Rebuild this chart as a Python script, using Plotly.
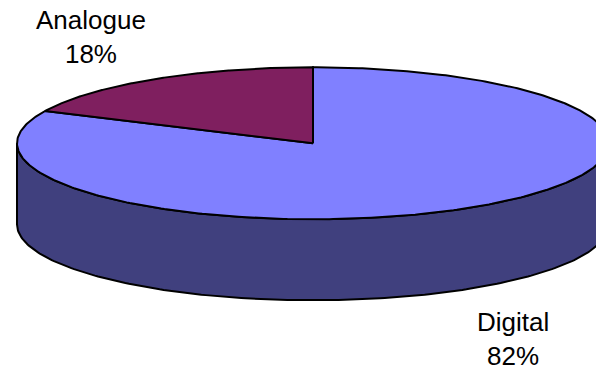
import numpy as np
import plotly.graph_objects as go

# Data
categories = ["Digital", "Analogue"]
values = [82, 18]
top_colors = ["#8080FF", "#7F1F5F"]
side_colors = ["#40407E", "#3F0F2F"]

# Pie geometry in pixel space (y grows downwards)
W, H = 596, 370
cx, cy = 313, 143.3      # centre of the top face
a, b = 296, 76           # ellipse radii
depth = 81               # height of the pie wall


def ellipse_pts(t0, t1, yoff=0.0, n=200):
    # angles measured clockwise from 12 o'clock, in degrees
    t = np.radians(np.linspace(t0, t1, n))
    return cx + a * np.sin(t), cy + yoff - b * np.cos(t)


fig = go.Figure()

total = sum(values)
bounds = np.concatenate([[0], np.cumsum(values) / total * 360.0])

# Front wall of every slice: the part lying between 90 and 270 degrees
for i, cat in enumerate(categories):
    s, e = bounds[i], bounds[i + 1]
    lo, hi = max(s, 90.0), min(e, 270.0)
    if hi <= lo:
        continue
    xt, yt = ellipse_pts(lo, hi)
    xb, yb = ellipse_pts(lo, hi, yoff=depth)
    xs = np.concatenate([xt, xb[::-1], xt[:1]])
    ys = np.concatenate([yt, yb[::-1], yt[:1]])
    fig.add_trace(go.Scatter(
        x=xs, y=ys, mode="lines", fill="toself",
        fillcolor=side_colors[i], line=dict(color="black", width=2),
        hoverinfo="skip", showlegend=False))

# Top faces
for i, cat in enumerate(categories):
    s, e = bounds[i], bounds[i + 1]
    xa, ya = ellipse_pts(s, e, n=400)
    xs = np.concatenate([[cx], xa, [cx]])
    ys = np.concatenate([[cy], ya, [cy]])
    fig.add_trace(go.Scatter(
        x=xs, y=ys, mode="lines", fill="toself",
        fillcolor=top_colors[i], line=dict(color="black", width=2),
        name=cat, hoverinfo="skip", showlegend=False))

# Category labels with percentages
label_pos = {"Digital": (513, 339), "Analogue": (91, 37)}
for cat, v in zip(categories, values):
    x, y = label_pos[cat]
    fig.add_annotation(
        x=x, y=y, xref="x", yref="y", showarrow=False,
        text=f"{cat}<br>{round(v / total * 100)}%",
        font=dict(family="Liberation Sans, Arial, sans-serif", size=26, color="black"),
        align="center")

fig.update_xaxes(range=[0, W], visible=False, fixedrange=True)
fig.update_yaxes(range=[H, 0], visible=False, fixedrange=True)
fig.update_layout(
    width=W, height=H,
    margin=dict(l=0, r=0, t=0, b=0),
    paper_bgcolor="white", plot_bgcolor="white",
    showlegend=False)

fig.write_html("out.html")
